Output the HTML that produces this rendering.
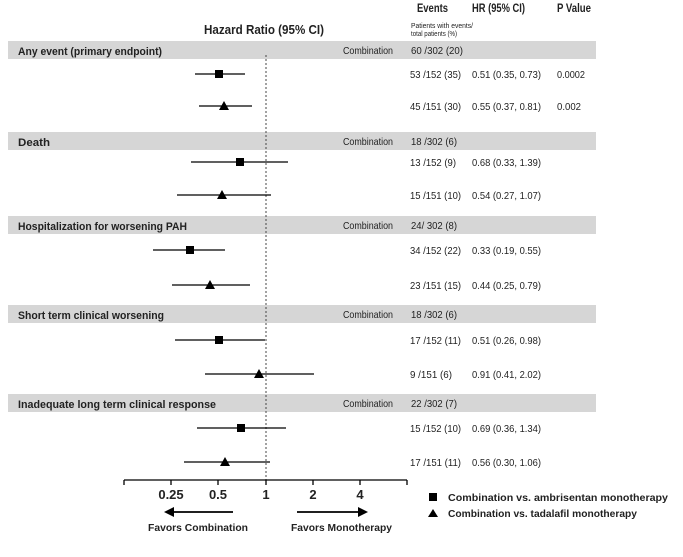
<!DOCTYPE html>
<html><head><style>
body{margin:0;background:#fff;}
svg text{font-family:"Liberation Sans",Arial,sans-serif;fill:#222;}
.b{font-weight:bold;fill:#111;}
</style></head><body>
<svg width="683" height="552" xmlns="http://www.w3.org/2000/svg">
<g fill="#d6d6d6">
<rect x="8" y="41" width="588" height="18"/>
<rect x="8" y="132" width="588" height="18"/>
<rect x="8" y="216" width="588" height="18"/>
<rect x="8" y="305" width="588" height="18"/>
<rect x="8" y="394" width="588" height="18"/>
</g>
<line x1="266" y1="55" x2="266" y2="480" stroke="#444" stroke-dasharray="2,2" stroke-width="1"/>
<g font-size="11.5" class="b">
<text x="417" y="12" textLength="31" lengthAdjust="spacingAndGlyphs">Events</text>
<text x="472" y="12" textLength="53" lengthAdjust="spacingAndGlyphs">HR (95% CI)</text>
<text x="557" y="12" textLength="34" lengthAdjust="spacingAndGlyphs">P Value</text>
<text x="204" y="34" font-size="12.5" textLength="120" lengthAdjust="spacingAndGlyphs">Hazard Ratio (95% CI)</text>
</g>
<text x="411" y="28" font-size="7" textLength="62" lengthAdjust="spacingAndGlyphs">Patients with events/</text>
<text x="411" y="36" font-size="7" textLength="46" lengthAdjust="spacingAndGlyphs">total patients (%)</text>
<g font-size="11" class="b">
<text x="18" y="55" textLength="144" lengthAdjust="spacingAndGlyphs">Any event (primary endpoint)</text>
<text x="18" y="146" textLength="32" lengthAdjust="spacingAndGlyphs">Death</text>
<text x="18" y="230" textLength="169" lengthAdjust="spacingAndGlyphs">Hospitalization for worsening PAH</text>
<text x="18" y="319" textLength="146" lengthAdjust="spacingAndGlyphs">Short term clinical worsening</text>
<text x="18" y="408" textLength="198" lengthAdjust="spacingAndGlyphs">Inadequate long term clinical response</text>
</g>
<g font-size="10.5">
<text x="343" y="54" textLength="50" lengthAdjust="spacingAndGlyphs">Combination</text><text x="411" y="54" textLength="52" lengthAdjust="spacingAndGlyphs">60 /302 (20)</text>
<text x="410" y="78" textLength="51" lengthAdjust="spacingAndGlyphs">53 /152 (35)</text><text x="472" y="78" textLength="69" lengthAdjust="spacingAndGlyphs">0.51 (0.35, 0.73)</text><text x="557" y="78" textLength="28" lengthAdjust="spacingAndGlyphs">0.0002</text>
<text x="410" y="110" textLength="51" lengthAdjust="spacingAndGlyphs">45 /151 (30)</text><text x="472" y="110" textLength="69" lengthAdjust="spacingAndGlyphs">0.55 (0.37, 0.81)</text><text x="557" y="110" textLength="24" lengthAdjust="spacingAndGlyphs">0.002</text>
<text x="343" y="145" textLength="50" lengthAdjust="spacingAndGlyphs">Combination</text><text x="411" y="145" textLength="46" lengthAdjust="spacingAndGlyphs">18 /302 (6)</text>
<text x="410" y="166" textLength="46" lengthAdjust="spacingAndGlyphs">13 /152 (9)</text><text x="472" y="166" textLength="69" lengthAdjust="spacingAndGlyphs">0.68 (0.33, 1.39)</text>
<text x="410" y="199" textLength="51" lengthAdjust="spacingAndGlyphs">15 /151 (10)</text><text x="472" y="199" textLength="69" lengthAdjust="spacingAndGlyphs">0.54 (0.27, 1.07)</text>
<text x="343" y="229" textLength="50" lengthAdjust="spacingAndGlyphs">Combination</text><text x="411" y="229" textLength="46" lengthAdjust="spacingAndGlyphs">24/ 302 (8)</text>
<text x="410" y="254" textLength="51" lengthAdjust="spacingAndGlyphs">34 /152 (22)</text><text x="472" y="254" textLength="69" lengthAdjust="spacingAndGlyphs">0.33 (0.19, 0.55)</text>
<text x="410" y="289" textLength="51" lengthAdjust="spacingAndGlyphs">23 /151 (15)</text><text x="472" y="289" textLength="69" lengthAdjust="spacingAndGlyphs">0.44 (0.25, 0.79)</text>
<text x="343" y="318" textLength="50" lengthAdjust="spacingAndGlyphs">Combination</text><text x="411" y="318" textLength="46" lengthAdjust="spacingAndGlyphs">18 /302 (6)</text>
<text x="410" y="344" textLength="51" lengthAdjust="spacingAndGlyphs">17 /152 (11)</text><text x="472" y="344" textLength="69" lengthAdjust="spacingAndGlyphs">0.51 (0.26, 0.98)</text>
<text x="410" y="378" textLength="42" lengthAdjust="spacingAndGlyphs">9 /151 (6)</text><text x="472" y="378" textLength="69" lengthAdjust="spacingAndGlyphs">0.91 (0.41, 2.02)</text>
<text x="343" y="407" textLength="50" lengthAdjust="spacingAndGlyphs">Combination</text><text x="411" y="407" textLength="46" lengthAdjust="spacingAndGlyphs">22 /302 (7)</text>
<text x="410" y="432" textLength="51" lengthAdjust="spacingAndGlyphs">15 /152 (10)</text><text x="472" y="432" textLength="69" lengthAdjust="spacingAndGlyphs">0.69 (0.36, 1.34)</text>
<text x="410" y="466" textLength="51" lengthAdjust="spacingAndGlyphs">17 /151 (11)</text><text x="472" y="466" textLength="69" lengthAdjust="spacingAndGlyphs">0.56 (0.30, 1.06)</text>
</g>
<g stroke="#000" stroke-width="1.3">
<line x1="195" y1="74" x2="245" y2="74"/>
<line x1="199" y1="106" x2="252" y2="106"/>
<line x1="191" y1="162" x2="288" y2="162"/>
<line x1="177" y1="195" x2="271" y2="195"/>
<line x1="153" y1="250" x2="225" y2="250"/>
<line x1="172" y1="285" x2="250" y2="285"/>
<line x1="175" y1="340" x2="265" y2="340"/>
<line x1="205" y1="374" x2="314" y2="374"/>
<line x1="197" y1="428" x2="286" y2="428"/>
<line x1="184" y1="462" x2="270" y2="462"/>
</g>
<g fill="#000">
<rect x="215" y="70" width="8" height="8"/>
<polygon points="224,101 229,110 219,110"/>
<rect x="236" y="158" width="8" height="8"/>
<polygon points="222,190 227,199 217,199"/>
<rect x="186" y="246" width="8" height="8"/>
<polygon points="210,280 215,289 205,289"/>
<rect x="215" y="336" width="8" height="8"/>
<polygon points="259,369 264,378 254,378"/>
<rect x="237" y="424" width="8" height="8"/>
<polygon points="225,457 230,466 220,466"/>
</g>
<g stroke="#000" stroke-width="1.3">
<line x1="124" y1="480" x2="407" y2="480"/>
<line x1="124" y1="480" x2="124" y2="485"/>
<line x1="171" y1="480" x2="171" y2="485"/>
<line x1="218" y1="480" x2="218" y2="485"/>
<line x1="266" y1="480" x2="266" y2="485"/>
<line x1="313" y1="480" x2="313" y2="485"/>
<line x1="360" y1="480" x2="360" y2="485"/>
<line x1="407" y1="480" x2="407" y2="485"/>
<line x1="171" y1="512" x2="233" y2="512" stroke-width="1.8"/>
<line x1="297" y1="512" x2="360" y2="512" stroke-width="1.8"/>
</g>
<polygon points="164,512 174,507 174,517" fill="#000"/>
<polygon points="368,512 358,507 358,517" fill="#000"/>
<g font-size="13" class="b" text-anchor="middle">
<text x="171" y="499">0.25</text><text x="218" y="499">0.5</text><text x="266" y="499">1</text><text x="313" y="499">2</text><text x="360" y="499">4</text>
</g>
<g font-size="10.5" class="b">
<text x="148" y="531" textLength="100" lengthAdjust="spacingAndGlyphs">Favors Combination</text>
<text x="291" y="531" textLength="101" lengthAdjust="spacingAndGlyphs">Favors Monotherapy</text>
<text x="448" y="501" textLength="220" lengthAdjust="spacingAndGlyphs">Combination vs. ambrisentan monotherapy</text>
<text x="448" y="517" textLength="189" lengthAdjust="spacingAndGlyphs">Combination vs. tadalafil monotherapy</text>
</g>
<rect x="429" y="493" width="8" height="8" fill="#000"/>
<polygon points="433,509 438,517 428,517" fill="#000"/>
</svg>
</body></html>
